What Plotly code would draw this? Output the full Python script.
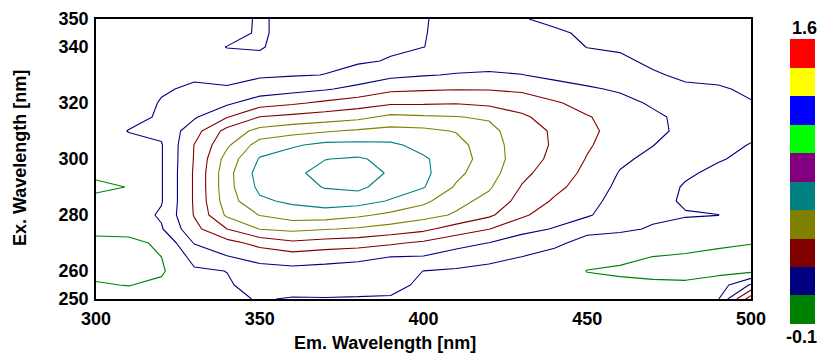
import plotly.graph_objects as go

# Emission (x) and excitation (y) wavelengths of the grid
em = [300, 310, 320, 330, 340, 350, 360, 370, 380, 390, 400,
      410, 420, 430, 440, 450, 460, 470, 480, 490, 500]
ex = [250, 255, 260, 265, 270, 275, 280, 285, 290, 295, 300,
      305, 310, 315, 320, 325, 330, 335, 340, 345, 350]

# Intensity, one list per emission wavelength,
# values ordered from Ex 250 nm up to Ex 350 nm
c300 = [0.05, 0.035, 0.015, 0.01, 0.02, 0.04, 0.06, 0.05, 0.015, 0.045, 0.06, 0.065, 0.07, 0.07, 0.065, 0.06, 0.06, 0.055, 0.055, 0.05, 0.05]
c310 = [0.06, 0.028, 0.015, 0.01, 0.015, 0.05, 0.075, 0.07, 0.032, 0.06, 0.075, 0.09, 0.118, 0.09, 0.08, 0.075, 0.07, 0.065, 0.06, 0.055, 0.055]
c320 = [0.07, 0.045, 0.02, 0.03, 0.04, 0.108, 0.125, 0.11, 0.11, 0.11, 0.11, 0.11, 0.13, 0.125, 0.12, 0.108, 0.09, 0.08, 0.07, 0.065, 0.06]
c330 = [0.08, 0.09, 0.105, 0.14, 0.205, 0.26, 0.29, 0.295, 0.295, 0.295, 0.29, 0.287, 0.25, 0.19, 0.15, 0.125, 0.105, 0.09, 0.08, 0.07, 0.065]
c340 = [0.1, 0.108, 0.116, 0.195, 0.255, 0.37, 0.47, 0.5, 0.51, 0.51, 0.49, 0.44, 0.4, 0.28, 0.185, 0.12, 0.1, 0.09, 0.117, 0.085, 0.08]
c350 = [0.12, 0.14, 0.17, 0.226, 0.313, 0.457, 0.543, 0.611, 0.645, 0.66, 0.632, 0.579, 0.483, 0.372, 0.247, 0.151, 0.105, 0.1, 0.12, 0.125, 0.125]
c360 = [0.11, 0.145, 0.175, 0.246, 0.353, 0.475, 0.582, 0.64, 0.675, 0.69, 0.67, 0.614, 0.51, 0.393, 0.272, 0.171, 0.11, 0.1, 0.09, 0.09, 0.09]
c370 = [0.112, 0.14, 0.17, 0.231, 0.334, 0.46, 0.583, 0.665, 0.715, 0.74, 0.708, 0.646, 0.532, 0.41, 0.302, 0.192, 0.116, 0.105, 0.095, 0.09, 0.09]
c380 = [0.11, 0.14, 0.165, 0.218, 0.323, 0.445, 0.556, 0.66, 0.73, 0.75, 0.72, 0.647, 0.552, 0.432, 0.328, 0.223, 0.15, 0.105, 0.1, 0.095, 0.09]
c390 = [0.11, 0.13, 0.155, 0.199, 0.297, 0.42, 0.52, 0.618, 0.665, 0.7, 0.685, 0.64, 0.567, 0.475, 0.358, 0.267, 0.18, 0.12, 0.105, 0.1, 0.1]
c400 = [0.1, 0.105, 0.114, 0.195, 0.27, 0.39, 0.485, 0.56, 0.63, 0.645, 0.635, 0.6, 0.56, 0.465, 0.36, 0.275, 0.195, 0.155, 0.114, 0.113, 0.113]
c410 = [0.08, 0.09, 0.105, 0.16, 0.23, 0.33, 0.445, 0.48, 0.53, 0.56, 0.58, 0.57, 0.535, 0.458, 0.365, 0.28, 0.205, 0.165, 0.14, 0.13, 0.125]
c420 = [0.07, 0.08, 0.095, 0.135, 0.198, 0.287, 0.385, 0.43, 0.465, 0.49, 0.5, 0.49, 0.48, 0.445, 0.35, 0.28, 0.21, 0.17, 0.145, 0.135, 0.125]
c430 = [0.07, 0.075, 0.09, 0.114, 0.16, 0.225, 0.3, 0.34, 0.365, 0.39, 0.41, 0.415, 0.405, 0.385, 0.33, 0.27, 0.202, 0.165, 0.14, 0.125, 0.117]
c440 = [0.065, 0.065, 0.075, 0.09, 0.13, 0.195, 0.235, 0.275, 0.305, 0.33, 0.35, 0.36, 0.36, 0.33, 0.295, 0.235, 0.18, 0.15, 0.135, 0.12, 0.108]
c450 = [0.06, 0.05, 0.028, 0.055, 0.09, 0.135, 0.21, 0.23, 0.25, 0.265, 0.28, 0.295, 0.3, 0.29, 0.255, 0.21, 0.165, 0.135, 0.114, 0.11, 0.11]
c460 = [0.06, 0.045, 0.02, 0.045, 0.085, 0.125, 0.15, 0.165, 0.18, 0.195, 0.215, 0.24, 0.26, 0.255, 0.225, 0.19, 0.155, 0.13, 0.105, 0.1, 0.1]
c470 = [0.055, 0.04, 0.015, 0.029, 0.07, 0.11, 0.125, 0.14, 0.15, 0.165, 0.18, 0.202, 0.22, 0.215, 0.19, 0.16, 0.125, 0.1, 0.09, 0.085, 0.085]
c480 = [0.05, 0.04, 0.01, 0.02, 0.06, 0.09, 0.12, 0.105, 0.108, 0.125, 0.14, 0.16, 0.18, 0.18, 0.16, 0.13, 0.1, 0.085, 0.08, 0.075, 0.075]
c490 = [0.11, 0.07, 0.01, 0.015, 0.04, 0.08, 0.116, 0.085, 0.09, 0.1, 0.12, 0.135, 0.15, 0.155, 0.145, 0.125, 0.09, 0.08, 0.075, 0.07, 0.07]
c500 = [0.42, 0.21, 0.01, 0.01, 0.032, 0.06, 0.075, 0.08, 0.085, 0.09, 0.1, 0.112, 0.13, 0.135, 0.12, 0.1, 0.085, 0.075, 0.07, 0.065, 0.065]

columns = [c300, c310, c320, c330, c340, c350, c360, c370, c380, c390, c400,
           c410, c420, c430, c440, c450, c460, c470, c480, c490, c500]
z = [list(row) for row in zip(*columns)]  # rows = Ex, cols = Em

# Colour bar (10 bands) and its end labels
band_colors = ["#008000", "#000080", "#800000", "#808000", "#008080",
               "#800080", "#00ff00", "#0000ff", "#ffff00", "#ff0000"]
cbar_min, cbar_max = -0.1, 1.6
cbar_labels = ["1.6", "-0.1"]

# Contour levels, grouped by the colour band they fall in
level_step = 0.085
level_groups = [
    ("#008000", [0.03]),
    ("#000080", [0.115, 0.2]),
    ("#800000", [0.285, 0.37]),
    ("#808000", [0.455, 0.54]),
    ("#008080", [0.625, 0.71]),
]

x_ticks = [300, 350, 400, 450, 500]
y_ticks = [250, 260, 280, 300, 320, 340, 350]
x_title = "Em. Wavelength [nm]"
y_title = "Ex. Wavelength [nm]"

FAM = "Arial, Liberation Sans, sans-serif"

fig = go.Figure()
for color, lv in level_groups:
    fig.add_trace(go.Contour(
        x=em, y=ex, z=z,
        autocontour=False,
        contours=dict(start=lv[0], end=lv[-1] + 1e-6, size=level_step,
                      coloring="none", showlabels=False),
        line=dict(color=color, width=1.1, smoothing=0),
        showscale=False, hoverinfo="skip",
    ))

n = len(band_colors)
cscale = []
for i, c in enumerate(band_colors):
    cscale.append([i / n, c])
    cscale.append([(i + 1) / n, c])

fig.add_trace(go.Scatter(
    x=[None, None], y=[None, None], mode="markers", showlegend=False,
    hoverinfo="skip",
    marker=dict(color=[cbar_min, cbar_max], cmin=cbar_min, cmax=cbar_max,
                colorscale=cscale, showscale=True,
                colorbar=dict(x=1.0595, xanchor="left", xpad=0,
                              y=0.4196, yanchor="middle", ypad=0,
                              len=1.018, lenmode="fraction",
                              thickness=25, thicknessmode="pixels",
                              outlinewidth=0, showticklabels=False, ticks="")),
))

bold = dict(family=FAM, size=18, color="black", weight="bold")

fig.add_annotation(text=cbar_labels[0], x=1.0815, y=0.968, xref="paper", yref="paper",
                   showarrow=False, xanchor="center", yanchor="middle", font=bold)
fig.add_annotation(text=cbar_labels[1], x=1.0765, y=-0.1357, xref="paper", yref="paper",
                   showarrow=False, xanchor="center", yanchor="middle", font=bold)
fig.add_annotation(text=x_title, x=0.4408, y=-0.157, xref="paper", yref="paper",
                   showarrow=False, xanchor="center", yanchor="middle", font=bold)
fig.add_annotation(text=y_title, x=-0.116, y=0.5036, xref="paper", yref="paper",
                   showarrow=False, xanchor="center", yanchor="middle", textangle=-90,
                   font=bold)

fig.update_layout(
    width=819, height=353,
    margin=dict(l=96, r=68, t=19, b=54, autoexpand=False),
    plot_bgcolor="white", paper_bgcolor="white",
    showlegend=False, hovermode=False,
    font=dict(family=FAM, color="black"),
    xaxis=dict(range=[300, 500], tickvals=x_ticks, showgrid=False, zeroline=False,
               showline=True, mirror=True, linecolor="#000000", linewidth=1.5,
               ticks="outside", ticklen=3, tickcolor="rgba(0,0,0,0)",
               tickfont=bold, automargin=False),
    yaxis=dict(range=[250, 350], tickvals=y_ticks, showgrid=False, zeroline=False,
               showline=True, mirror=True, linecolor="#000000", linewidth=1.5,
               ticks="outside", ticklen=2, tickcolor="rgba(0,0,0,0)",
               tickfont=bold, automargin=False),
)

# Remove the browser's default 8 px page margin so the figure fills the window
fig.write_html("out.html", config={"displayModeBar": False},
               post_script="document.body.style.margin='0px';")
